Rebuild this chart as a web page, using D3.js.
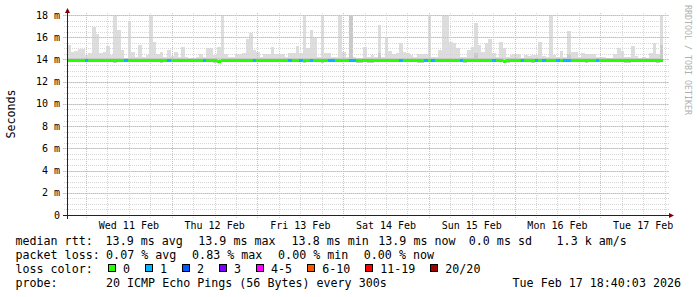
<!DOCTYPE html>
<html>
<head>
<meta charset="utf-8">
<script src="https://cdn.jsdelivr.net/npm/d3@7"></script>
<style>
  body { margin: 0; background: #fff; }
  svg { display: block; font-family: "DejaVu Sans Mono", monospace; }
</style>
</head>
<body>
<svg id="chart" width="697" height="297"></svg>
<script>
// hourly bins, 10 Feb 18:40 -> 17 Feb 18:40 (one row per 24 bins)
const smokeMax = [
  15.3, 14.7, 14.75, 14.95, 14.95, 14.4, 14.6, 16.95, 16.3, 14.6, 14.7, 15.2, 14.4, 18, 16.65, 14.85, 14.1, 17.4, 14.7, 14.25, 15.3, 14.25, 14.4, 18,
  15.6, 14.45, 14.7, 14.25, 14.85, 14.3, 14.7, 14.2, 15.1, 14.2, 14.15, 14.15, 14.2, 14.5, 14.2, 15.0, 15.0, 14.4, 15.1, 18, 14.5, 14.2, 14.2, 14.45,
  14.45, 14.6, 15.85, 16.35, 14.85, 14.7, 14.2, 14.45, 14.45, 15.15, 14.45, 14.45, 14.45, 14.25, 14.6, 14.6, 15.2, 14.55, 18, 15.0, 16.65, 16.05, 14.25, 18,
  14.55, 14.55, 14.25, 14.25, 18, 14.7, 14.25, 18, 14.25, 14.1, 14.1, 15.1, 14.25, 14.4, 14.25, 17.1, 14.25, 16.0, 14.75, 14.5, 14.55, 15.45, 14.7, 14.55,
  14.4, 14.25, 14.5, 14.5, 14.5, 18, 14.25, 14.25, 14.85, 18, 18, 15.6, 15.45, 15.05, 14.25, 14.25, 14.85, 15.15, 17.25, 15.3, 14.7, 15.5, 15.8, 14.6,
  14.25, 15.6, 15.0, 14.25, 14.4, 14.45, 14.45, 14.15, 14.4, 14.35, 14.4, 14.4, 15.55, 14.3, 14.25, 18, 14.4, 14.25, 14.75, 14.25, 16.55, 14.7, 14.7, 14.25,
  14.55, 14.45, 14.45, 14.45, 14.25, 14.25, 14.25, 14.15, 14.15, 14.45, 15.0, 14.75, 14.25, 14.25, 15.2, 14.3, 14.15, 14.25, 14.15, 14.55, 15.45, 14.45, 18, null
];
const smokeDark = [
  14.15, 14.15, 14.15, 14.15, 14.15, 14.15, 14.15, 14.15, 14.15, 14.15, 14.15, 14.15, 14.15, 14.15, 14.15, 14.15, 14.1, 14.15, 14.15, 14.15, 14.15, 14.15, 14.15, 14.15,
  14.15, 14.15, 14.15, 14.15, 14.15, 14.15, 14.15, 14.15, 14.15, 14.15, 14.15, 14.15, 14.15, 14.15, 14.15, 14.15, 14.15, 14.15, 14.15, 14.15, 14.15, 14.15, 14.15, 14.15,
  14.15, 14.15, 14.15, 14.15, 14.15, 14.15, 14.15, 14.15, 14.15, 14.15, 14.15, 14.15, 14.15, 14.15, 14.15, 14.15, 14.15, 14.15, 14.15, 14.15, 14.15, 14.15, 14.15, 14.15,
  14.15, 14.15, 14.15, 14.15, 14.15, 14.15, 14.15, 18, 14.15, 14.1, 14.1, 14.15, 14.15, 14.15, 14.15, 14.6, 14.15, 14.15, 14.15, 14.15, 14.15, 14.15, 14.15, 14.15,
  14.15, 14.15, 14.15, 14.15, 14.15, 14.15, 14.15, 14.15, 14.15, 14.15, 14.15, 14.15, 14.15, 14.15, 14.15, 14.15, 14.15, 14.15, 14.6, 14.15, 14.15, 14.15, 14.15, 14.15,
  14.15, 14.15, 14.15, 14.15, 14.15, 14.15, 14.15, 14.15, 14.15, 14.15, 14.15, 14.15, 14.15, 14.15, 14.15, 14.15, 14.15, 14.15, 14.15, 14.15, 14.5, 14.15, 14.15, 14.15,
  14.15, 14.15, 14.15, 14.15, 14.15, 14.15, 14.15, 14.15, 14.15, 14.15, 14.15, 14.15, 14.15, 14.15, 14.15, 14.15, 14.15, 14.15, 14.15, 14.15, 14.15, 14.15, 15.3, null
];
const smokeMin = [
  13.8, 13.8, 13.8, 13.8, 13.8, 13.8, 13.8, 13.8, 13.8, 13.8, 13.8, 13.8, 13.8, 13.65, 13.8, 13.8, 13.8, 13.8, 13.8, 13.8, 13.8, 13.8, 13.8, 13.8,
  13.8, 13.8, 13.65, 13.8, 13.8, 13.8, 13.8, 13.8, 13.8, 13.8, 13.8, 13.8, 13.8, 13.8, 13.8, 13.8, 13.8, 13.65, 13.65, 13.8, 13.8, 13.8, 13.8, 13.8,
  13.8, 13.8, 13.8, 13.8, 13.8, 13.8, 13.8, 13.8, 13.8, 13.8, 13.8, 13.8, 13.8, 13.8, 13.8, 13.8, 13.8, 13.8, 13.65, 13.8, 13.8, 13.8, 13.8, 13.65,
  13.8, 13.8, 13.8, 13.8, 13.8, 13.8, 13.8, 13.8, 13.8, 13.65, 13.65, 13.8, 13.65, 13.65, 13.8, 13.8, 13.8, 13.8, 13.8, 13.8, 13.8, 13.8, 13.8, 13.8,
  13.8, 13.8, 13.65, 13.65, 13.8, 13.8, 13.8, 13.8, 13.8, 13.8, 13.8, 13.8, 13.8, 13.8, 13.8, 13.65, 13.8, 13.8, 13.8, 13.8, 13.8, 13.8, 13.8, 13.8,
  13.8, 13.8, 13.65, 13.65, 13.8, 13.8, 13.8, 13.8, 13.8, 13.8, 13.65, 13.8, 13.8, 13.8, 13.8, 13.8, 13.8, 13.8, 13.8, 13.8, 13.8, 13.8, 13.8, 13.8,
  13.8, 13.65, 13.8, 13.8, 13.8, 13.8, 13.8, 13.8, 13.8, 13.8, 13.8, 13.8, 13.65, 13.65, 13.8, 13.8, 13.8, 13.8, 13.8, 13.8, 13.8, 13.65, 13.8, null
];
const median = [
  13.9, 13.9, 13.9, 13.9, 13.9, 13.9, 13.9, 13.9, 13.9, 13.9, 13.9, 13.9, 13.9, 13.9, 13.9, 13.9, 13.9, 13.9, 13.9, 13.9, 13.9, 13.9, 13.9, 13.9,
  13.9, 13.9, 13.9, 13.9, 13.9, 13.9, 13.9, 13.9, 13.9, 13.9, 13.9, 13.9, 13.9, 13.9, 13.9, 13.9, 13.9, 13.9, 13.85, 13.9, 13.9, 13.9, 13.9, 13.9,
  13.9, 13.9, 13.9, 13.9, 13.9, 13.9, 13.9, 13.9, 13.9, 13.9, 13.9, 13.9, 13.9, 13.9, 13.9, 13.9, 13.9, 13.9, 13.9, 13.9, 13.9, 13.9, 13.9, 13.9,
  13.9, 13.9, 13.9, 13.9, 13.9, 13.9, 13.9, 13.9, 13.9, 13.9, 13.9, 13.9, 13.9, 13.9, 13.9, 13.9, 13.9, 13.9, 13.9, 13.9, 13.9, 13.9, 13.9, 13.9,
  13.9, 13.9, 13.9, 13.9, 13.9, 13.9, 13.9, 13.9, 13.9, 13.9, 13.9, 13.9, 13.9, 13.9, 13.9, 13.9, 13.9, 13.9, 13.9, 13.9, 13.9, 13.9, 13.9, 13.9,
  13.9, 13.9, 13.85, 13.9, 13.9, 13.9, 13.9, 13.9, 13.9, 13.9, 13.9, 13.9, 13.9, 13.9, 13.9, 13.9, 13.9, 13.9, 13.9, 13.9, 13.9, 13.9, 13.9, 13.9,
  13.9, 13.9, 13.9, 13.9, 13.9, 13.9, 13.9, 13.9, 13.9, 13.9, 13.9, 13.9, 13.9, 13.9, 13.9, 13.9, 13.9, 13.9, 13.9, 13.9, 13.9, 13.9, 13.9, null
];
const loss = [
  0, 0, 0, 0, 0, 1, 0, 0, 0, 0, 0, 0, 0, 0, 0, 0, 1, 0, 0, 0, 0, 0, 0, 0,
  0, 0, 0, 0, 1, 0, 0, 0, 0, 0, 0, 0, 0, 0, 1, 0, 0, 0, 0, 0, 0, 0, 0, 0,
  0, 0, 0, 0, 1, 0, 0, 0, 0, 0, 0, 0, 0, 0, 1, 0, 0, 1, 0, 0, 1, 0, 0, 0,
  0, 1, 1, 0, 0, 0, 0, 1, 1, 0, 0, 0, 0, 0, 0, 0, 0, 0, 0, 0, 0, 1, 0, 0,
  0, 0, 0, 0, 1, 0, 1, 0, 0, 0, 0, 0, 0, 0, 1, 0, 0, 0, 0, 0, 0, 0, 0, 1,
  0, 0, 0, 0, 0, 0, 0, 1, 0, 0, 0, 1, 0, 1, 0, 0, 0, 1, 0, 1, 1, 0, 0, 0,
  0, 0, 0, 0, 1, 0, 0, 0, 0, 0, 0, 0, 0, 0, 0, 0, 0, 0, 0, 0, 0, 0, 0, null
];

const lossLabels = ['0', '1', '2', '3', '4-5', '6-10', '11-19', '20/20'];
const lossBreaks = [1, 2, 3, 4, 6, 11, 20];
const lossColors = ['#26ff00', '#00b8ff', '#0059ff', '#7e00ff', '#ff00ff', '#ff5500', '#ff0000', '#a10000'];

const statsRtt = ['13.9 ms avg', '13.9 ms max', '13.8 ms min', '13.9 ms now', '0.0 ms sd', '1.3 k am/s'];
const statsLoss = ['0.07 % avg', '0.83 % max', '0.00 % min', '0.00 % now'];
const probeText = '20 ICMP Echo Pings (56 Bytes) every 300s';
const stampText = 'Tue Feb 17 18:40:03 2026';

const END = new Date(Date.UTC(2026, 1, 17, 18, 40, 3));
const START = new Date(END.getTime() - 7 * 864e5);
const STEP = 3600e3;

// plot box
const LEFT = 67, RIGHT = 667, TOP = 15, BOTTOM = 215;
const CHAR = 7.02; // legend char advance

const x = d3.scaleUtc().domain([START, END]).range([LEFT, RIGHT]);
const y = d3.scaleLinear().domain([0, 18]).range([BOTTOM, TOP]);
const lossColor = d3.scaleThreshold().domain(lossBreaks).range(lossColors);

const svg = d3.select('#chart');
svg.append('rect').attr('width', 697).attr('height', 297).attr('fill', '#fff');

const bins = smokeMax.map((v, i) => ({
  t0: new Date(START.getTime() + i * STEP),
  t1: new Date(START.getTime() + (i + 1) * STEP),
  hi: v, dark: smokeDark[i], lo: smokeMin[i], med: median[i], loss: loss[i]
})).filter(d => d.hi != null);

// smoke
const smoke = svg.append('g').attr('shape-rendering', 'crispEdges');
smoke.selectAll('rect.light').data(bins).join('rect')
  .attr('class', 'light')
  .attr('x', d => x(d.t0)).attr('width', d => x(d.t1) - x(d.t0))
  .attr('y', d => y(d.hi)).attr('height', d => y(d.lo) - y(d.hi))
  .attr('fill', '#dddddd');
smoke.selectAll('rect.dark').data(bins).join('rect')
  .attr('class', 'dark')
  .attr('x', d => x(d.t0)).attr('width', d => x(d.t1) - x(d.t0))
  .attr('y', d => y(d.dark)).attr('height', d => y(d.lo) - y(d.dark))
  .attr('fill', '#c9c9c9');

// grid
const grid = svg.append('g').attr('shape-rendering', 'crispEdges').attr('stroke-dasharray', '1,1');
const GRID = '#d6d6d6', MGRID = '#e2b4b4';
grid.selectAll('line.hmin').data(y.ticks(36)).join('line')
  .attr('x1', LEFT - 3).attr('x2', RIGHT + 2)
  .attr('y1', d => Math.round(y(d)) + 0.5).attr('y2', d => Math.round(y(d)) + 0.5)
  .attr('stroke', GRID);
grid.selectAll('line.vmin').data(d3.utcHour.every(6).range(START, END)).join('line')
  .attr('y1', TOP - 2).attr('y2', BOTTOM + 3)
  .attr('x1', d => Math.round(x(d)) + 0.5).attr('x2', d => Math.round(x(d)) + 0.5)
  .attr('stroke', GRID);
grid.selectAll('line.hmaj').data(y.ticks(9)).join('line')
  .attr('x1', LEFT - 4).attr('x2', RIGHT + 2)
  .attr('y1', d => Math.round(y(d)) + 0.5).attr('y2', d => Math.round(y(d)) + 0.5)
  .attr('stroke', MGRID);
grid.selectAll('line.vmaj').data(d3.utcDay.range(START, END)).join('line')
  .attr('y1', TOP - 2).attr('y2', BOTTOM + 4)
  .attr('x1', d => Math.round(x(d)) + 0.5).attr('x2', d => Math.round(x(d)) + 0.5)
  .attr('stroke', MGRID);

// median, coloured by loss
svg.append('g').attr('shape-rendering', 'crispEdges')
  .selectAll('rect').data(bins).join('rect')
  .attr('x', d => x(d.t0)).attr('width', d => x(d.t1) - x(d.t0))
  .attr('y', d => y(d.med) - 1.5).attr('height', 3)
  .attr('fill', d => lossColor(d.loss));

// axes
const axis = svg.append('g').attr('shape-rendering', 'crispEdges').attr('stroke', '#222');
axis.append('line').attr('x1', LEFT - 4).attr('x2', RIGHT + 3).attr('y1', BOTTOM + 0.5).attr('y2', BOTTOM + 0.5);
axis.append('line').attr('x1', LEFT + 0.5).attr('x2', LEFT + 0.5).attr('y1', BOTTOM + 4).attr('y2', TOP - 3);
svg.append('path').attr('fill', '#7f0000')
  .attr('d', `M${LEFT + 0.5},${TOP - 7}L${LEFT - 2},${TOP - 2}L${LEFT + 3},${TOP - 2}Z`);
svg.append('path').attr('fill', '#7f0000')
  .attr('d', `M${RIGHT + 7},${BOTTOM + 0.5}L${RIGHT + 2},${BOTTOM - 2}L${RIGHT + 2},${BOTTOM + 3}Z`);

// y labels
svg.append('g').attr('font-size', 10).attr('fill', '#000').attr('text-anchor', 'end')
  .selectAll('text').data(y.ticks(9)).join('text')
  .attr('x', 60).attr('y', d => y(d) + 3.6)
  .text(d => d === 0 ? '0' : `${d} m`);

// x labels at noon
const noonFmt = d3.utcFormat('%a %d %b');
svg.append('g').attr('font-size', 10).attr('fill', '#000').attr('text-anchor', 'middle')
  .selectAll('text').data(d3.utcDay.range(START, END).map(d => d3.utcHour.offset(d, 12)).filter(d => d < END)).join('text')
  .attr('x', d => x(d)).attr('y', 229)
  .text(d => noonFmt(d));

// unit label
svg.append('text').attr('transform', 'translate(14.5,114) rotate(-90)')
  .attr('text-anchor', 'middle').attr('font-size', 11.66).text('Seconds');

// watermark
svg.append('text').attr('transform', 'translate(685,5) rotate(90)')
  .attr('font-size', 8.3).attr('fill', '#b0b0b0').text('RRDTOOL / TOBI OETIKER');

// legend
const leg = svg.append('g').attr('font-size', 11.66).attr('fill', '#000').style('white-space', 'pre');
const L1 = 245, L2 = 259, L3 = 273, L4 = 287;
leg.append('text').attr('x', 15.5).attr('y', L1).text('median rtt:');
const rttX = [105.6, 198.3, 291.6, 378.3, 468.8, 556.6];
statsRtt.forEach((s, i) => leg.append('text').attr('x', rttX[i]).attr('y', L1).text(s));
leg.append('text').attr('x', 15.5).attr('y', L2).text('packet loss:');
const lossX = [106.1, 192.1, 278.1, 363.8];
statsLoss.forEach((s, i) => leg.append('text').attr('x', lossX[i]).attr('y', L2).text(s));
leg.append('text').attr('x', 15.5).attr('y', L3).text('loss color:');
let bx = 108;
lossLabels.forEach((lab, i) => {
  leg.append('rect').attr('x', bx + 0.5).attr('y', L3 - 8.5).attr('width', 7).attr('height', 7)
    .attr('fill', lossColors[i]).attr('stroke', '#000').attr('shape-rendering', 'crispEdges');
  leg.append('text').attr('x', bx + 15).attr('y', L3).text(lab);
  bx += 15 + lab.length * CHAR + 15;
});
leg.append('text').attr('x', 15.5).attr('y', L4).text('probe:');
leg.append('text').attr('x', 106).attr('y', L4).text(probeText);
leg.append('text').attr('x', 681).attr('y', L4).attr('text-anchor', 'end').text(stampText);
</script>
</body>
</html>
